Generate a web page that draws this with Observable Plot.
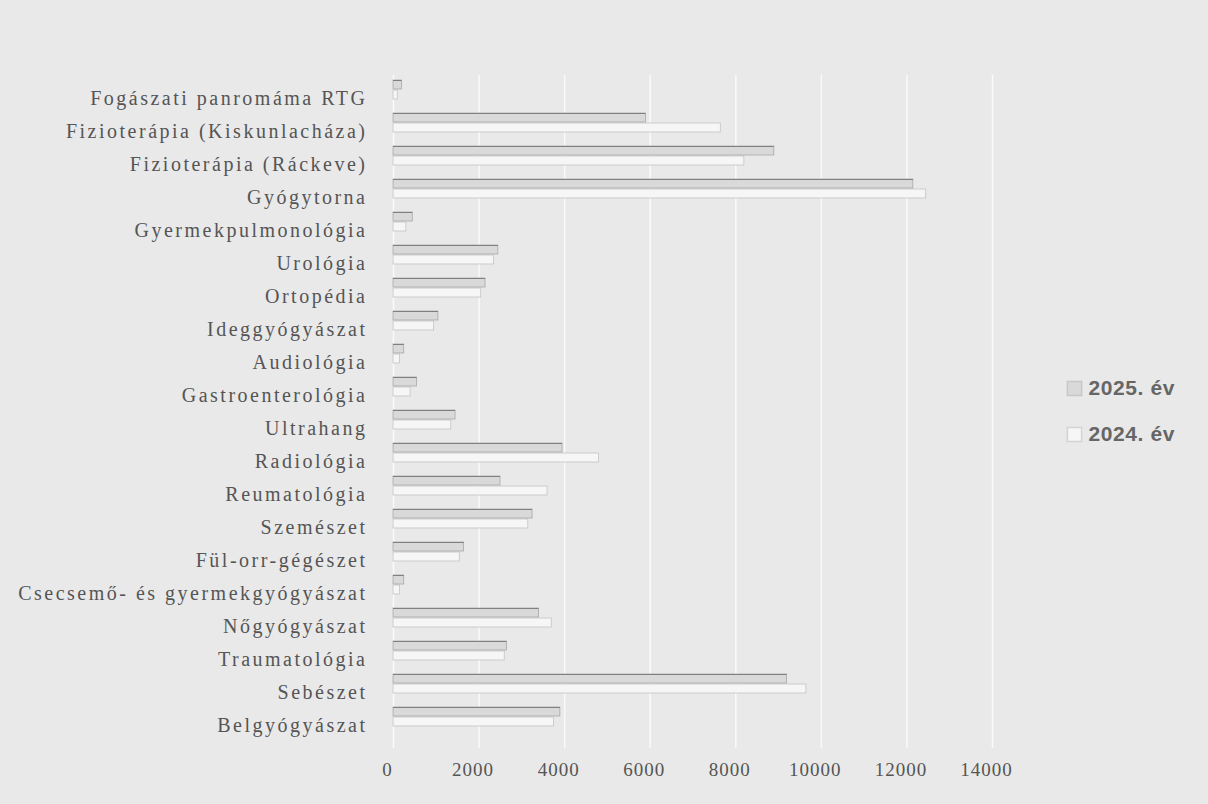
<!DOCTYPE html>
<html>
<head>
<meta charset="utf-8">
<script src="https://cdn.jsdelivr.net/npm/d3@7"></script>
<script src="https://cdn.jsdelivr.net/npm/@observablehq/plot@0.6"></script>
<style>
  html, body { margin: 0; padding: 0; background: #e9e9e9; }
  #chart { width: 1208px; height: 804px; overflow: hidden; }
  #chart svg { display: block; }
  #chart g[aria-label="y-axis tick label"] text { letter-spacing: 2.5px; }
  #chart g[aria-label="x-axis tick label"] text { letter-spacing: 1px; }
  #chart g[aria-label="text"] text { letter-spacing: 0.6px; }
</style>
</head>
<body>
<div id="chart"></div>
<script>
const categories = [
  "Fogászati panromáma RTG",
  "Fizioterápia (Kiskunlacháza)",
  "Fizioterápia (Ráckeve)",
  "Gyógytorna",
  "Gyermekpulmonológia",
  "Urológia",
  "Ortopédia",
  "Ideggyógyászat",
  "Audiológia",
  "Gastroenterológia",
  "Ultrahang",
  "Radiológia",
  "Reumatológia",
  "Szemészet",
  "Fül-orr-gégészet",
  "Csecsemő- és gyermekgyógyászat",
  "Nőgyógyászat",
  "Traumatológia",
  "Sebészet",
  "Belgyógyászat"
];
const seriesNames = ["2025. év", "2024. év"];
const values2025 = [200, 5900, 8900, 12150, 450, 2450, 2150, 1050, 250, 550, 1450, 3950, 2500, 3250, 1650, 250, 3400, 2650, 9200, 3900];
const values2024 = [100, 7650, 8200, 12450, 300, 2350, 2050, 950, 150, 400, 1350, 4800, 3600, 3150, 1550, 150, 3700, 2600, 9650, 3750];
const xTicks = [0, 2000, 4000, 6000, 8000, 10000, 12000, 14000];

const data2025 = categories.map((c, i) => ({category: c, value: values2025[i], series: seriesNames[0]}));
const data2024 = categories.map((c, i) => ({category: c, value: values2024[i], series: seriesNames[1]}));

const serif = "'Liberation Serif', 'DejaVu Serif', serif";
const sans = "'Liberation Sans', 'DejaVu Sans', sans-serif";

const chart = Plot.plot({
  width: 1208,
  height: 804,
  marginLeft: 393,
  marginRight: 216,
  marginTop: 75,
  marginBottom: 56,
  style: {background: "transparent", fontFamily: serif, fontSize: "18px", color: "#555"},
  x: {domain: [0, 14000], label: null},
  y: {domain: categories, padding: 0, label: null},
  marks: [
    Plot.gridX(xTicks, {stroke: "#ffffff", strokeOpacity: 0.75, strokeWidth: 1.5}),
    // 2024 series (lower / back bar)
    Plot.barX(data2024, {x: "value", y: "category", fill: "#f6f6f6", stroke: "#c4c4c4", strokeWidth: 0.8, insetTop: 12, insetBottom: 12, dy: -4}),
    // 2025 series (upper / front bar)
    Plot.barX(data2025, {x: "value", y: "category", fill: "#d9d9d9", stroke: "#a8a8a8", strokeWidth: 0.8, insetTop: 2, insetBottom: 22, dy: -4}),
    Plot.barX(data2025, {x: "value", y: "category", fill: "#6e6e6e", insetTop: 2, insetBottom: 30.2, dy: -4}),
    Plot.axisX({ticks: xTicks, tickSize: 0, tickPadding: 14, tickFormat: d => String(d), dx: -6, fontSize: 19, fontFamily: serif, fill: "#555", label: null}),
    Plot.axisY({tickSize: 0, tickPadding: 26, fontSize: 20, fontFamily: serif, fill: "#555", label: null}),
    // legend
    Plot.dot([seriesNames[0]], {frameAnchor: "top-right", dx: 82, dy: 313, symbol: "square", r: 8, fill: "#d9d9d9", stroke: "#c8c8c8"}),
    Plot.dot([seriesNames[1]], {frameAnchor: "top-right", dx: 82, dy: 359, symbol: "square", r: 8, fill: "#f6f6f6", stroke: "#d4d4d4"}),
    Plot.text([seriesNames[0]], {text: d => d, frameAnchor: "top-right", dx: 96, dy: 313, textAnchor: "start", lineAnchor: "middle", fontSize: 21, fontFamily: sans, fontWeight: 600, fill: "#666"}),
    Plot.text([seriesNames[1]], {text: d => d, frameAnchor: "top-right", dx: 96, dy: 359, textAnchor: "start", lineAnchor: "middle", fontSize: 21, fontFamily: sans, fontWeight: 600, fill: "#666"})
  ]
});
document.getElementById("chart").appendChild(chart);
</script>
</body>
</html>
